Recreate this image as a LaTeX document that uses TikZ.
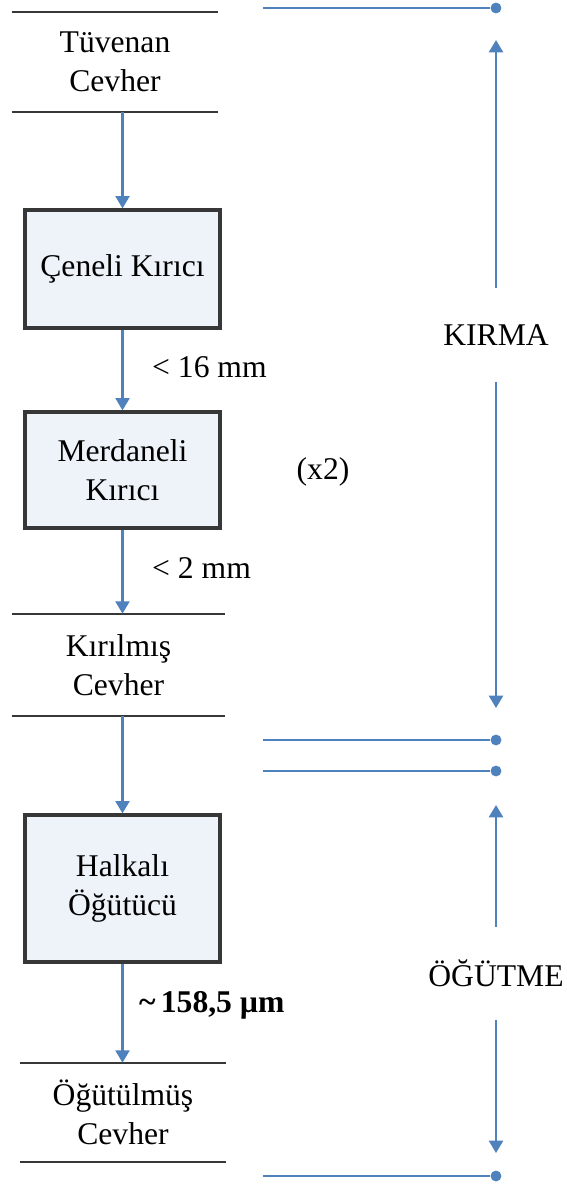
\documentclass[tikz,border=0pt]{standalone}
\usepackage{fontspec}
\setmainfont{Liberation Serif}
\usetikzlibrary{arrows.meta}
\definecolor{akis}{RGB}{79,129,189}
\definecolor{cizgi}{RGB}{55,55,55}
\definecolor{kutudolgu}{RGB}{238,243,250}

\begin{document}
\begin{tikzpicture}[x=0.02cm, y=-0.02cm,
  yazi/.style={align=center, font=\fontsize{18}{22}\selectfont},
  kutu/.style={yazi, draw=cizgi, line width=1.9pt, fill=kutudolgu, minimum width=3.9cm},
  yatay/.style={draw=cizgi, line width=1.3pt},
  ok/.style={draw=akis, line width=1.2pt, -{Triangle[width=8pt,length=7pt]}},
  hat/.style={draw=akis, line width=1.3pt},
  nokta/.style={circle, fill=akis, inner sep=0pt, minimum size=6.2pt}]
\useasboundingbox (0,0) rectangle (566,1186);

% akis semasi
\node[yazi, minimum width=4.12cm, minimum height=1.98cm](tuvenan) at (115,62) {Tüvenan\\Cevher};
\node[kutu, minimum height=2.36cm](cene) at (122.5,269) {Çeneli Kırıcı};
\node[kutu, minimum height=2.32cm](merdane) at (122.5,470) {Merdaneli\\Kırıcı};
\node[yazi, minimum width=4.26cm, minimum height=2.04cm](kirilmis) at (118.5,665) {Kırılmış\\Cevher};
\node[kutu, minimum height=2.94cm](halka) at (122.5,888.5) {Halkalı\\Öğütücü};
\node[yazi, minimum width=4.12cm, minimum height=1.98cm](ogutulmus) at (123,1112.5) {Öğütülmüş\\Cevher};

\draw[yatay] (tuvenan.north west) -- (tuvenan.north east);
\draw[yatay] (tuvenan.south west) -- (tuvenan.south east);
\draw[yatay] (kirilmis.north west) -- (kirilmis.north east);
\draw[yatay] (kirilmis.south west) -- (kirilmis.south east);
\draw[yatay] (ogutulmus.north west) -- (ogutulmus.north east);
\draw[yatay] (ogutulmus.south west) -- (ogutulmus.south east);

\draw[ok] (cene.north |- tuvenan.south) -- (cene.north);
\draw[ok] (cene.south) -- (merdane.north);
\draw[ok] (merdane.south) -- (merdane.south |- kirilmis.north);
\draw[ok] (halka.north |- kirilmis.south) -- (halka.north);
\draw[ok] (halka.south) -- (halka.south |- ogutulmus.north);

% boyutlar
\node[yazi, anchor=west](mm16) at (146,367) {< 16 mm};
\node[yazi, anchor=west](mm2) at (146,568) {< 2 mm};
\node[yazi](iki) at (323,472) {(x2)};
\node[yazi, anchor=west, font=\fontsize{18}{22}\selectfont\bfseries](mikron) at (133,1005) {\textasciitilde\,158,5 µm};

% asamalar
\node[nokta](n1) at (496,8) {};
\node[nokta](n2) at (496,740) {};
\node[nokta](n3) at (496,771) {};
\node[nokta](n4) at (496,1176) {};
\coordinate (b1) at (263,8);
\coordinate (b2) at (263,740);
\coordinate (b3) at (263,771);
\coordinate (b4) at (263,1176);
\draw[hat] (b1) -- (n1);
\draw[hat] (b2) -- (n2);
\draw[hat] (b3) -- (n3);
\draw[hat] (b4) -- (n4);

\node[yazi, minimum height=1.88cm](kirma) at (496,335) {KIRMA};
\node[yazi, minimum height=1.86cm](ogutme) at (496,973.5) {ÖĞÜTME};
\coordinate (kirmaust) at (496,40);
\coordinate (kirmaalt) at (496,708);
\coordinate (ogutmeust) at (496,805);
\coordinate (ogutmealt) at (496,1153);
\draw[ok] (kirma.north) -- (kirmaust);
\draw[ok] (kirma.south) -- (kirmaalt);
\draw[ok] (ogutme.north) -- (ogutmeust);
\draw[ok] (ogutme.south) -- (ogutmealt);
\end{tikzpicture}
\end{document}
